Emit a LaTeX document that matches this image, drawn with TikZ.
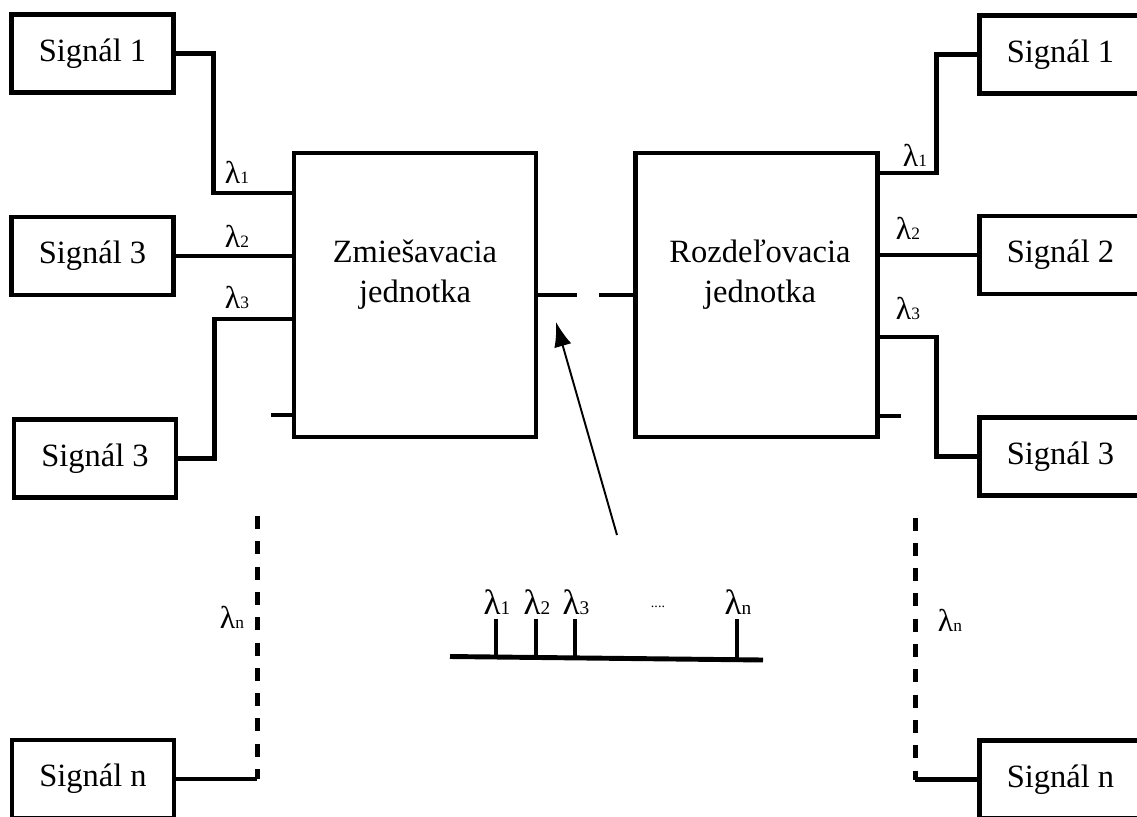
\documentclass[tikz,border=0pt]{standalone}
\usepackage{fontspec}
\setmainfont{Liberation Serif}
\usetikzlibrary{arrows.meta}
\newcommand{\lam}[1]{λ{\fontsize{0.55em}{1em}\selectfont #1}}

\begin{document}
\begin{tikzpicture}[x=0.02cm,y=-0.02cm,
        sig/.style={draw,line width=2.6pt,minimum width=3.24cm,minimum height=1.56cm,inner sep=0pt,font=\fontsize{18.5}{22}\selectfont},
        unit/.style={draw,line width=2.6pt,minimum width=4.84cm,minimum height=5.68cm},
        unittext/.style={align=center,font=\fontsize{18.5}{22.7}\selectfont},
        wire/.style={line width=2.6pt},
        dashline/.style={wire,dash pattern=on 7.4pt off 7pt},
        lab/.style={inner sep=0pt,font=\fontsize{18}{18}\selectfont}]
        \useasboundingbox (0,0) rectangle (1137,816);
        %% Units
        \node[unit] (mix) at (415,295) {};
        \node[unit] (dem) at (756.5,295) {};
        \node[unittext] (mixlbl) at ([yshift=0.4cm]mix.center) {Zmiešavacia\\jednotka};
        \node[unittext] (demlbl) at ([xshift=0.07cm,yshift=0.4cm]dem.center) {Rozdeľovacia\\jednotka};
        %% Left signals
        \node[sig] (L1) at (92.5,53.5) {Signál 1};
        \node[sig] (L2) at (92.5,256) {Signál 3};
        \node[sig] (L3) at (95,458.5) {Signál 3};
        \node[sig] (Ln) at (93,779) {Signál n};
        %% Right signals
        \node[sig] (R1) at (1060.5,54.5) {Signál 1};
        \node[sig] (R2) at (1060.5,255) {Signál 2};
        \node[sig] (R3) at (1060.5,456.5) {Signál 3};
        \node[sig] (Rn) at (1060.5,779.5) {Signál n};
        %% Inputs
        \draw[wire] (L1.east) -- ++(38,0) |- ([yshift=2.04cm]mix.west);
        \draw[wire] (L2.east) -- (mix.west |- L2.east);
        \draw[wire] (L3.east) -- ++(36,0) |- ([yshift=-0.48cm]mix.west);
        \draw[wire] ([yshift=-2.4cm]mix.west) -- ++(-21,0);
        \draw[wire] (Ln.east) -- ++(81,0) coordinate (ln);
        \draw[dashline] (ln) ++(0,-263) -- (ln);
        \node[lab] (li1) at (237,172) {\lam1};
        \node[lab] (li2) at (237,236) {\lam2};
        \node[lab] (li3) at (237,297) {\lam3};
        \node[lab] (lin) at (232,617) {\lam n};
        %% Outputs
        \draw[wire] (R1.west) -- ++(-41,0) |- ([yshift=2.44cm]dem.east);
        \draw[wire] (R2.west) -- (dem.east |- R2.west);
        \draw[wire] (R3.west) -- ++(-41,0) |- ([yshift=-0.84cm]dem.east);
        \draw[wire] ([yshift=-2.42cm]dem.east) -- ++(21,0);
        \draw[wire] (Rn.west) -- ++(-62,0) coordinate (rn);
        \draw[dashline] (rn) ++(0,-262) -- (rn);
        \node[lab] (lo1) at (915,155) {\lam1};
        \node[lab] (lo2) at (908,228) {\lam2};
        \node[lab] (lo3) at (908,308) {\lam3};
        \node[lab] (lon) at (950,620) {\lam n};
        %% Fibre
        \draw[wire,dash pattern=on 22.1pt off 12.5pt] (mix.east) -- (dem.west);
        %% Spectrum
        \draw[line width=2.8pt] (450,656.5) -- (763,660);
        \foreach \x/\n in {496/1,536/2,575/3,737/n} {
            \draw[line width=2.3pt] (\x,619) -- (\x,658);
            \node[lab,font=\fontsize{20}{20}\selectfont] (s\n) at (\x+1,602) {\lam\n};
        }
        \node[lab,font=\fontsize{8}{8}\selectfont] (dots) at (658,607) {....};
        \coordinate (spec) at (617,535);
        \coordinate (fib) at (556,322);
        \draw[-{Latex[length=14pt,width=10pt]},line width=1.1pt] (spec) -- (fib);
    \end{tikzpicture}
\end{document}
